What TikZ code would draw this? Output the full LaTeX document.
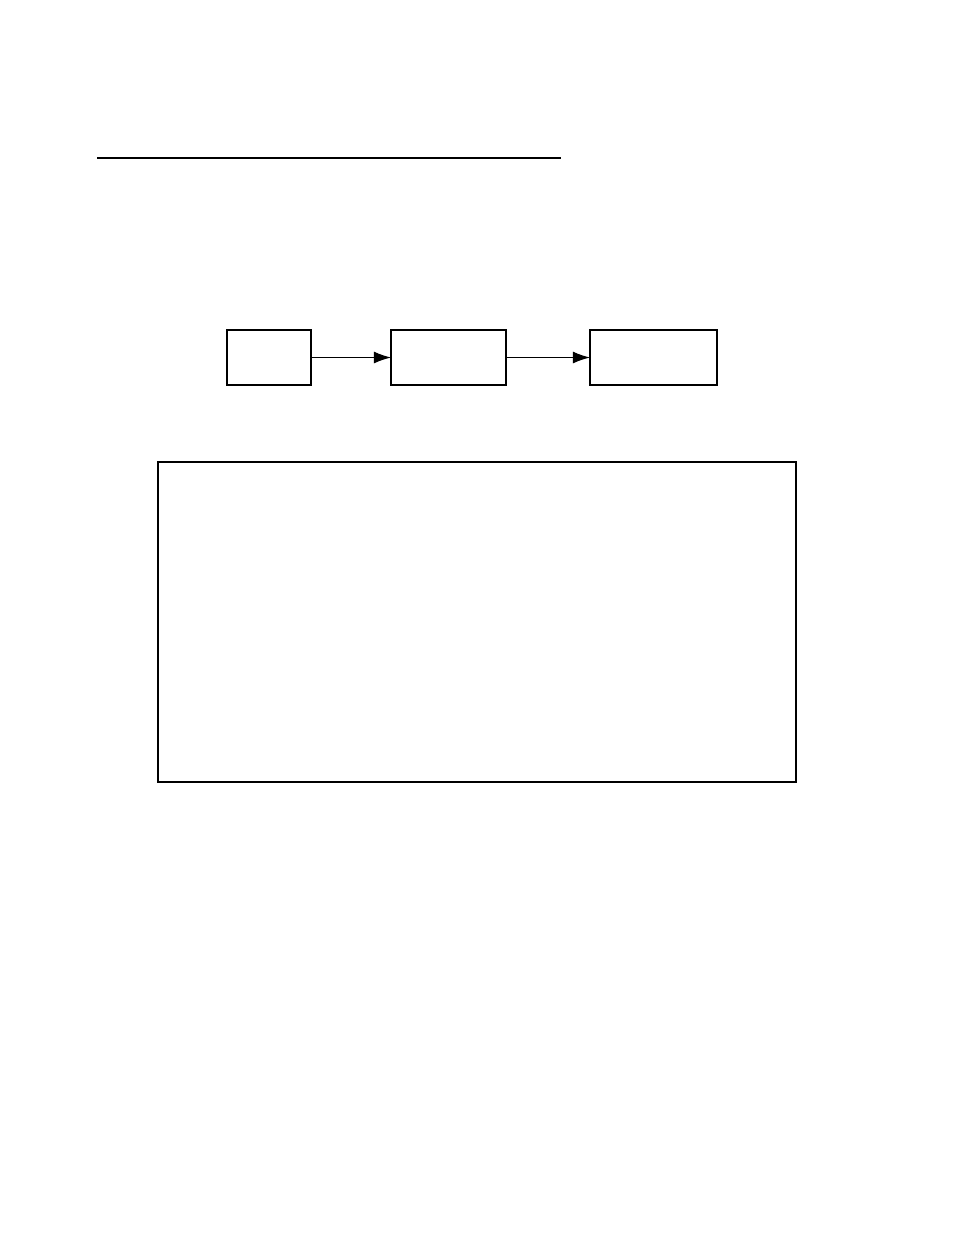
\documentclass[tikz,border=0pt]{standalone}
\usetikzlibrary{arrows.meta,positioning}
\begin{document}
\begin{tikzpicture}[
  x=0.6415pt, y=-0.6415pt,
  block/.style={rectangle, draw, line width=0.7pt, minimum height=35.3pt, inner sep=0pt, outer sep=0pt},
  flow/.style={-{Latex[length=11pt,width=7.7pt]}, line width=0.7pt},
  frame/.style={rectangle, draw, line width=1.3pt, minimum width=409.3pt, minimum height=205.3pt, inner sep=0pt},
]
\useasboundingbox (0,0) rectangle (954,1235);
\coordinate (ruleL) at (97,158);
\coordinate (ruleR) at (561,158);
\draw[line width=1pt] (ruleL) -- (ruleR);

\node[block, minimum width=53.9pt] (src) at (269,357.5) {};
\node[block, minimum width=73.8pt] (mid) at (448.5,357.5) {};
\node[block, minimum width=81.5pt] (dst) at (653.5,357.5) {};

\draw[flow] (src) -- (mid);
\draw[flow] (mid) -- (dst);

\node[frame] (panel) at (477,622) {};
\end{tikzpicture}
\end{document}
